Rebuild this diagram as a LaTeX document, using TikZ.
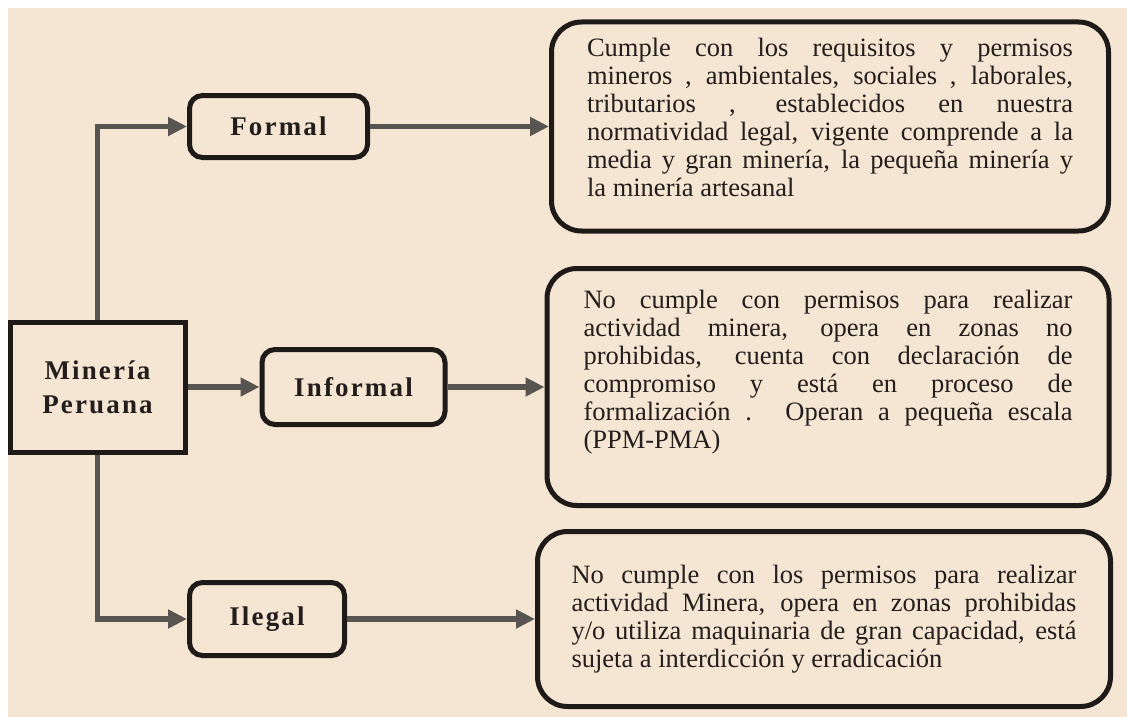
\documentclass[tikz,border=0pt]{standalone}
\usepackage{fontspec}
\setmainfont{Liberation Serif}
\newfontfamily\etiqfont[LetterSpace=8]{Liberation Serif}
\usepackage{tikz}
\usetikzlibrary{arrows.meta,
		positioning}
\definecolor{fondo}{RGB}{245,229,211}
\definecolor{borde}{RGB}{30,26,23}
\definecolor{grisflecha}{RGB}{88,84,79}
\definecolor{letra}{RGB}{35,30,27}
\tolerance=9999
\hbadness=10000
\tikzset{
	%Define standard arrow tip
	>={Triangle[length=19pt,width=18pt]},
	%Define style for the root box
	raiz/.style={
	       rectangle,
	       draw=borde, line width=5pt,
	       minimum width=175pt,
	       minimum height=130pt,
	       text=letra,
	       font=\etiqfont\bfseries\fontsize{27}{34}\selectfont,
	       align=center},
	%Define style for the small boxes
	tipo/.style={
	       rectangle,
	       rounded corners=13pt,
	       draw=borde, line width=5pt,
	       text=letra,
	       font=\etiqfont\bfseries\fontsize{27}{32}\selectfont},
	%Define style for the text boxes
	detalle/.style={
	       rectangle,
	       rounded corners=30pt,
	       draw=borde, line width=5pt,
	       inner sep=0pt,
	       text=letra,
	       font=\fontsize{26.5}{28}\selectfont,
	       align=justify},
	% Define arrow style
	pil/.style={
	       ->,
	       draw=grisflecha,
	       line width=5.5pt}
}
\begin{document}
\begin{tikzpicture}[x=1pt, y=-1pt]
	\useasboundingbox (0,0) rectangle (1127,717);
	\fill[fondo] (8,8) rectangle (1127,717);
	\node[raiz] (mp) at (97.5,387) {Minería\\Peruana};
	\node[tipo, minimum width=178pt, minimum height=62pt] (formal) at (278.5,126.5) {Formal};
	\node[tipo, minimum width=183pt, minimum height=75pt, right=72pt of mp] (informal) {Informal};
	\node[tipo, minimum width=155pt, minimum height=73pt] (ilegal) at (267,619) {Ilegal};
	% description boxes
	\node[detalle, text width=486pt, minimum width=557pt, minimum height=209pt, right=179pt of formal] (dformal)
		{Cumple con los requisitos y permisos\linebreak
		mineros , ambientales, sociales , laborales,\linebreak
		tributarios , establecidos en nuestra\linebreak
		normatividad legal, vigente comprende a la\linebreak
		media y gran minería, la pequeña minería y\linebreak
		la minería artesanal\rule[-18pt]{0pt}{18pt}};
	\node[detalle, text width=489pt, minimum width=562pt, minimum height=237pt, right=97pt of informal] (dinformal)
		{No cumple con permisos para realizar\linebreak
		actividad minera, opera en zonas no\linebreak
		prohibidas, cuenta con declaración de\linebreak
		compromiso y está en proceso de\linebreak
		formalización . Operan a pequeña escala\linebreak
		(PPM-PMA)\rule[-36pt]{0pt}{36pt}};
	\node[detalle, text width=505pt, minimum width=573pt, minimum height=175pt, right=188pt of ilegal] (dilegal)
		{No cumple con los permisos para realizar\linebreak
		actividad Minera, opera en zonas prohibidas\linebreak
		y/o utiliza maquinaria de gran capacidad, está\linebreak
		sujeta a interdicción y erradicación};
	% connectors
	\draw[pil] (mp.north) |- (formal.west);
	\draw[pil] (mp.east) -- (informal.west);
	\draw[pil] (mp.south) |- (ilegal.west);
	\draw[pil] (formal.east) -- (dformal.west);
	\draw[pil] (informal.east) -- (dinformal.west);
	\draw[pil] (ilegal.east) -- (dilegal.west);
\end{tikzpicture}
\end{document}
